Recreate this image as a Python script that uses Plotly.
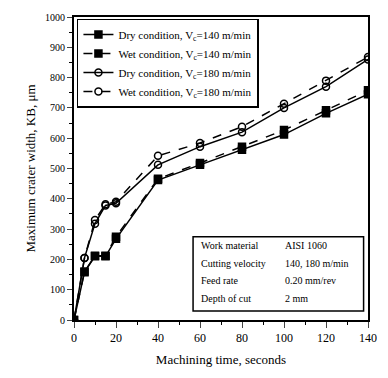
import plotly.graph_objects as go

time_s = [0, 5, 10, 15, 20, 40, 60, 80, 100, 120, 140]
dry_140 = [0, 158, 210, 210, 268, 462, 512, 562, 612, 682, 745]
wet_140 = [0, 160, 212, 212, 275, 466, 518, 572, 627, 692, 758]
dry_180 = [0, 205, 318, 378, 385, 512, 572, 620, 700, 770, 860]
wet_180 = [0, 205, 330, 382, 390, 542, 584, 638, 714, 790, 868]

series_names = [
    "Dry condition, V<sub>c</sub>=140 m/min",
    "Wet condition, V<sub>c</sub>=140 m/min",
    "Dry condition, V<sub>c</sub>=180 m/min",
    "Wet condition, V<sub>c</sub>=180 m/min",
]
info_labels = ["Work material", "Cutting velocity", "Feed rate", "Depth of cut"]
info_values = ["AISI 1060", "140, 180 m/min", "0.20 mm/rev", "2 mm"]

x_ticks = [0, 20, 40, 60, 80, 100, 120, 140]
y_ticks = [0, 100, 200, 300, 400, 500, 600, 700, 800, 900, 1000]

FONT = "Liberation Serif"

fig = go.Figure()
styles = [
    (dry_140, "solid", "square", "black"),
    (wet_140, "dash", "square", "black"),
    (dry_180, "solid", "circle-open", "black"),
    (wet_180, "dash", "circle-open", "black"),
]
for name, (vals, dash, sym, col) in zip(series_names, styles):
    fig.add_trace(go.Scatter(
        x=time_s, y=vals, name=name, mode="lines+markers",
        line=dict(color=col, width=1.5, dash=dash),
        marker=dict(symbol=sym, size=7, color="black",
                    line=dict(color="black", width=1.5)),
    ))

fig.update_layout(
    width=388, height=378,
    margin=dict(l=74, r=11, t=12, b=58),
    paper_bgcolor="white", plot_bgcolor="white",
    font=dict(family=FONT, size=12, color="black"),
    showlegend=True,
    legend=dict(
        x=0.01, y=0.995, xanchor="left", yanchor="top",
        bordercolor="black", borderwidth=1.5, bgcolor="white",
        font=dict(family=FONT, size=11),
        tracegroupgap=0, itemwidth=30,
    ),
    xaxis=dict(
        range=[0, 140], tickvals=x_ticks, ticks="outside", ticklen=6,
        showline=True, linecolor="black", linewidth=2, mirror=True,
        showgrid=False, zeroline=False,
        minor=dict(dtick=10, ticks="outside", ticklen=3, tickcolor="black"),
        title=dict(text="Machining time, seconds", font=dict(size=13), standoff=10),
        tickfont=dict(size=12),
    ),
    yaxis=dict(
        range=[0, 1000], tickvals=y_ticks, ticks="outside", ticklen=5,
        showline=True, linecolor="black", linewidth=2, mirror=True,
        showgrid=False, zeroline=False,
        minor=dict(dtick=50, ticks="outside", ticklen=3, tickcolor="black"),
        title=dict(text="Maximum crater width, KB, \u03bcm", font=dict(size=13), standoff=6),
        tickfont=dict(size=10),
    ),
)

# info box
fig.add_shape(type="rect", xref="paper", yref="paper",
              x0=0.405, x1=0.985, y0=0.03, y1=0.275,
              line=dict(color="black", width=1.5), fillcolor="white", layer="above")
for i, (lab, val) in enumerate(zip(info_labels, info_values)):
    yy = 0.245 - i * 0.058
    fig.add_annotation(xref="paper", yref="paper", x=0.425, y=yy, text=lab,
                       showarrow=False, xanchor="left", yanchor="middle",
                       font=dict(family=FONT, size=10))
    fig.add_annotation(xref="paper", yref="paper", x=0.71, y=yy, text=val,
                       showarrow=False, xanchor="left", yanchor="middle",
                       font=dict(family=FONT, size=10))

fig.write_html("out.html")
